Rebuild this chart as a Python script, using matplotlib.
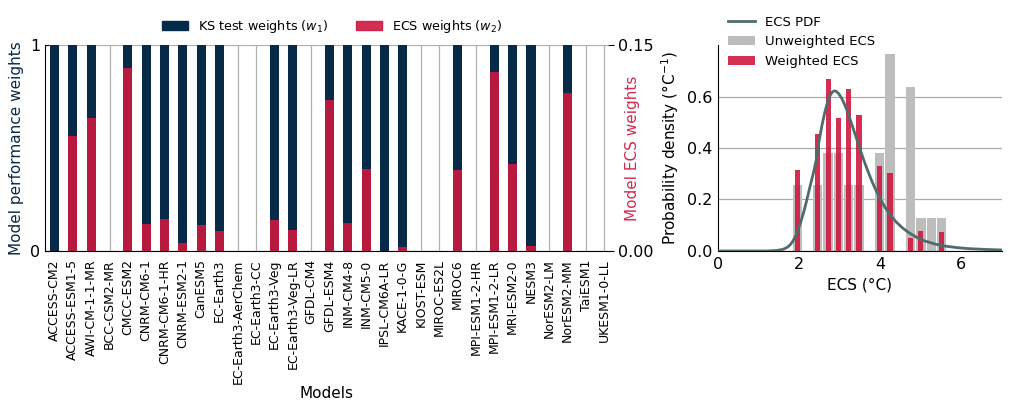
import numpy as np
import matplotlib.pyplot as plt
from matplotlib.patches import Patch

# modelli CMIP6
models = ['ACCESS-CM2', 'ACCESS-ESM1-5', 'AWI-CM-1-1-MR', 'BCC-CSM2-MR', 'CMCC-ESM2',
          'CNRM-CM6-1', 'CNRM-CM6-1-HR', 'CNRM-ESM2-1', 'CanESM5', 'EC-Earth3',
          'EC-Earth3-AerChem', 'EC-Earth3-CC', 'EC-Earth3-Veg', 'EC-Earth3-Veg-LR', 'GFDL-CM4',
          'GFDL-ESM4', 'INM-CM4-8', 'INM-CM5-0', 'IPSL-CM6A-LR', 'KACE-1-0-G',
          'KIOST-ESM', 'MIROC-ES2L', 'MIROC6', 'MPI-ESM1-2-HR', 'MPI-ESM1-2-LR',
          'MRI-ESM2-0', 'NESM3', 'NorESM2-LM', 'NorESM2-MM', 'TaiESM1', 'UKESM1-0-LL']

# pesi KS (w1) e pesi ECS (w2)
ks_weights = [1, 1, 1, 0, 1, 1, 1, 1, 1, 1, 0, 0, 1, 1, 0, 1, 1, 1, 1, 1,
              0, 0, 1, 0, 1, 1, 1, 0, 1, 0, 0]
ecs_weights = [0.0, 0.084, 0.0966, 0.0, 0.1333, 0.0198, 0.0232, 0.0058, 0.0188, 0.0145,
               0.0, 0.0, 0.0227, 0.0155, 0.0, 0.110, 0.0203, 0.0594, 0.0, 0.0029,
               0.0, 0.0, 0.0587, 0.0, 0.1305, 0.063, 0.0036, 0.0, 0.1152, 0.0, 0.0]

# istogrammi ECS (centri dei bin, densita)
bin_centers = [1.957, 2.211, 2.465, 2.719, 2.973, 3.227, 3.481, 3.735,
               3.989, 4.243, 4.497, 4.751, 5.005, 5.259, 5.513]
unweighted = [0.257, 0.0, 0.257, 0.381, 0.381, 0.257, 0.257, 0.0,
              0.381, 0.766, 0.0, 0.638, 0.128, 0.128, 0.128]
weighted = [0.315, 0.0, 0.455, 0.669, 0.517, 0.630, 0.529, 0.0,
            0.330, 0.303, 0.0, 0.0505, 0.078, 0.0, 0.074]
bin_width = 0.254

# curva PDF
pdf_x = [0.0, 1.2, 1.45, 1.6, 1.7, 1.78, 1.85, 1.92, 1.98, 2.05, 2.12, 2.19, 2.27, 2.36,
         2.43, 2.5, 2.57, 2.64, 2.7, 2.76, 2.82, 2.87, 2.92, 2.98, 3.04, 3.1, 3.17,
         3.24, 3.32, 3.4, 3.5, 3.6, 3.7, 3.8, 3.9, 4.0, 4.12, 4.25, 4.4, 4.55, 4.7,
         4.9, 5.1, 5.35, 5.6, 5.9, 6.2, 6.6, 7.0]
pdf_y = [0.0, 0.0, 0.002, 0.006, 0.013, 0.023, 0.038, 0.058, 0.082, 0.115, 0.152, 0.195,
         0.248, 0.305, 0.356, 0.43, 0.49, 0.54, 0.575, 0.602, 0.617, 0.622, 0.62,
         0.611, 0.597, 0.578, 0.552, 0.521, 0.484, 0.446, 0.398, 0.352, 0.31, 0.27,
         0.235, 0.203, 0.17, 0.14, 0.112, 0.09, 0.072, 0.053, 0.039, 0.027, 0.019,
         0.013, 0.009, 0.006, 0.004]

navy = '#072a48'
red = '#cd183f'
redtxt = '#d42a50'

fig = plt.figure(figsize=(10.11, 4.11), dpi=100)

# --- pannello sinistro ---
ax = fig.add_axes([0.0445, 0.3893, 0.5569, 0.5012])
x = np.arange(len(models))
ax.bar(x, ks_weights, width=0.5, color=navy, zorder=2)
ax.set_xlim(-0.52, 30.2)
ax.set_ylim(0, 1)
ax.set_yticks([0, 1])
ax.set_yticklabels(['0', '1'])
ax.set_xticks(x)
ax.set_xticklabels(models, rotation=90, fontsize=9)
ax.grid(True, color='#b0b0b0', linewidth=0.9, zorder=0)
ax.set_axisbelow(True)
ax.tick_params(axis='y', labelsize=11.5, direction='in', length=3)
ax.tick_params(axis='x', length=0, pad=6)
ax.set_ylabel('Model performance weights', color=navy, fontsize=11, labelpad=4)
ax.set_xlabel('Models', fontsize=11, labelpad=2)
for s in ['top', 'right']:
    ax.spines[s].set_visible(False)

ax2 = ax.twinx()
ax2.bar(x, ecs_weights, width=0.5, color=red, alpha=0.9, zorder=3)
ax2.set_ylim(0, 0.15)
ax2.set_yticks([0, 0.15])
ax2.set_yticklabels(['0.00', '0.15'])
ax2.tick_params(axis='y', labelsize=11.5, length=4)
ax2.set_ylabel('Model ECS weights', color=redtxt, fontsize=11)
ax2.yaxis.set_label_coords(1.03, 0.5)
for s in ['top', 'right', 'left', 'bottom']:
    ax2.spines[s].set_visible(False)

handles = [Patch(color=navy, label='KS test weights ($w_1$)'),
           Patch(color=red, alpha=0.9, label='ECS weights ($w_2$)')]
ax.legend(handles=handles, loc='lower center', bbox_to_anchor=(0.51, 0.995), ncol=2,
          frameon=False, fontsize=9.2, columnspacing=2.2)

# --- pannello destro ---
bx = fig.add_axes([0.7099, 0.3893, 0.2811, 0.5012])
bx.bar(bin_centers, unweighted, width=bin_width * 0.9, color='#bdbdbd', zorder=2,
       label='Unweighted ECS')
bx.bar(bin_centers, weighted, width=bin_width * 0.5, color=red, alpha=0.9, zorder=3,
       label='Weighted ECS')
bx.plot(pdf_x, pdf_y, color='#4f6b6b', linewidth=2, zorder=4, label='ECS PDF')
bx.set_xlim(0, 7)
bx.set_ylim(0, 0.8)
bx.set_xticks([0, 2, 4, 6])
bx.set_yticks([0.0, 0.2, 0.4, 0.6])
bx.set_yticklabels(['0.0', '0.2', '0.4', '0.6'])
bx.yaxis.grid(True, color='#aaaaaa', linewidth=0.9)
bx.set_axisbelow(True)
bx.tick_params(labelsize=11.5, length=0, pad=4)
bx.set_xlabel('ECS (°C)', fontsize=11)
bx.set_ylabel('Probability density (°C$^{-1}$)', fontsize=11)
for s in ['top', 'right']:
    bx.spines[s].set_visible(False)

h, l = bx.get_legend_handles_labels()
order = [l.index('ECS PDF'), l.index('Unweighted ECS'), l.index('Weighted ECS')]
bx.legend([h[i] for i in order], [l[i] for i in order], loc='upper left',
          bbox_to_anchor=(-0.005, 1.2), frameon=False, fontsize=9.5)

fig.savefig('out.png', dpi=100)
